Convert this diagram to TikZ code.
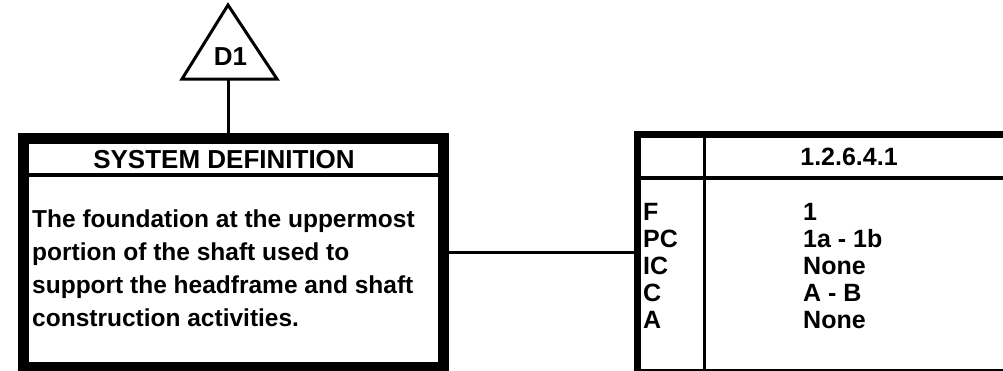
\documentclass[tikz,border=0pt]{standalone}
\usepackage{fontspec}
\setmainfont{Liberation Sans}
\usetikzlibrary{positioning}

\begin{document}
\begin{tikzpicture}[x=1pt, y=-1pt,
  heavybox/.style={draw, line width=11pt, inner sep=0pt},
  tablebox/.style={draw, line width=7pt, inner sep=0pt},
  rule/.style={line width=3.5pt},
  link/.style={line width=3pt},
  txt/.style={inner sep=0pt, font=\fontsize{24.5}{32.7}\selectfont\bfseries, align=left},
  headtxt/.style={inner sep=0pt, font=\fontsize{26}{26}\selectfont\bfseries},
  cell/.style={inner sep=0pt, font=\fontsize{25}{27}\selectfont\bfseries, align=left},
]
  \clip (0,0) rectangle (1003,370);
  % reference triangle
  \draw[line width=3pt, line join=miter] (228,5) -- (277,79) -- (182,79) -- cycle;
  \node[headtxt, anchor=base] (d1) at (230.5,65) {D1};
  \coordinate (d1base) at (228,79);

  % system definition box
  \node[heavybox, minimum width=420pt, minimum height=229pt, anchor=north west] (sysdef) at (17.5,132.5) {};
  \draw[rule] (sysdef.west |- 0,175) -- (sysdef.east |- 0,175);
  \node[headtxt, anchor=base] (syshead) at (224,168) {SYSTEM DEFINITION};
  % base of a multi-line node = last line
  \node[txt, anchor=base west] (sysbody) at (32,326) {The foundation at the uppermost\\
    portion of the shaft used to\\
    support the headframe and shaft\\
    construction activities.};

  % index table
  \node[tablebox, minimum width=400pt, minimum height=238pt, anchor=north west] (index) at (633.5,130.5) {};
  \draw[rule] (704.5,0 |- index.north) -- (704.5,0 |- index.south);
  \draw[rule] (index.west |- 0,178) -- (index.east |- 0,178);
  \node[cell, anchor=base] (indexno) at (849,165) {1.2.6.4.1};
  \node[cell, anchor=base west] (keys) at (643,328) {F\\PC\\IC\\C\\A};
  \node[cell, anchor=base west] (vals) at (803,328) {1\\1a - 1b\\None\\A - B\\None};

  % connectors
  \draw[link] (d1base) -- (d1base |- sysdef.north);
  \draw[link] (sysdef.east) -- (sysdef.east -| index.west);
\end{tikzpicture}
\end{document}
